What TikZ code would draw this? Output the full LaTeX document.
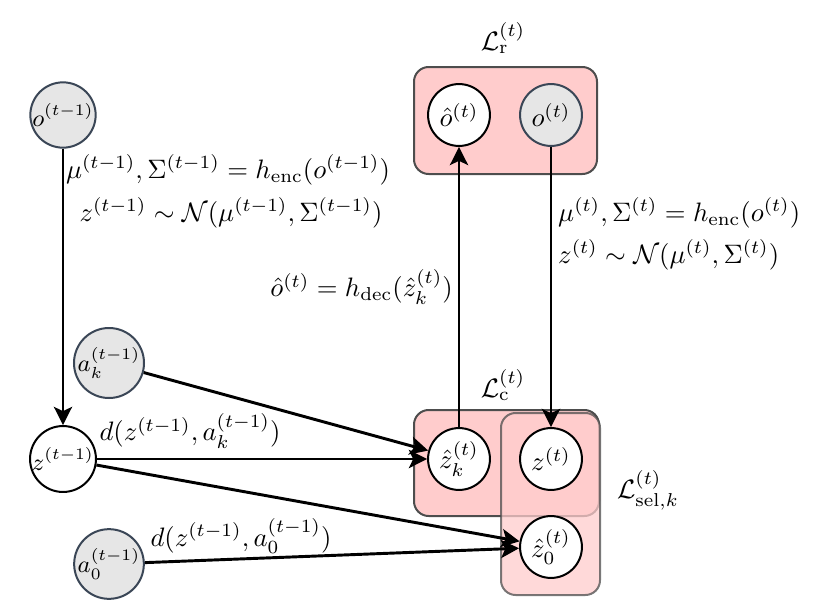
\documentclass[tikz,border=0pt]{standalone}
\usetikzlibrary{arrows.meta}
\begin{document}
\begin{tikzpicture}[x=0.375pt,y=-0.375pt,
  obs/.style={circle,draw=obsline,fill=obsfill,line width=0.75pt,minimum size=23.2pt,inner sep=0pt,font=\small},
  lat/.style={circle,draw=black,fill=white,line width=0.75pt,minimum size=23.2pt,inner sep=0pt},
  lossbox/.style={draw=boxline,fill=boxfill,line width=0.75pt,rounded corners=5.5pt},
  conn/.style={line width=1.1pt,-{Stealth[length=6.8pt,width=6.8pt,inset=1.6pt]}}]
\definecolor{obsfill}{HTML}{E6E6E6}
\definecolor{obsline}{HTML}{3A4656}
\definecolor{boxfill}{HTML}{FFCCCC}
\definecolor{boxline}{HTML}{4D4D4D}
\useasboundingbox (0,0) rectangle (814,611);
% loss boxes
\draw[lossbox] (414,67) rectangle (597,174);
\draw[lossbox] (414,410) rectangle (599,516);
\draw[lossbox,fill opacity=0.75,draw opacity=0.75] (501,413) rectangle (600,595);
\node (Lr) at (503,38) {$\mathcal{L}_{\mathrm{r}}^{(t)}$};
\node (Lc) at (503,385) {$\mathcal{L}_{\mathrm{c}}^{(t)}$};
\node (Ls) at (648,490) {$\mathcal{L}_{\mathrm{sel},k}^{(t)}$};
% nodes
\node[obs] (o1) at (63,115) {$o^{(t-1)}$};
\node[lat,font=\small] (z1) at (63,459) {$z^{(t-1)}$};
\node[obs] (ak) at (109,363) {$a_k^{(t-1)}$};
\node[obs] (a0) at (109,564) {$a_0^{(t-1)}$};
\node[lat] (oh) at (459,115) {$\hat{o}^{(t)}$};
\node[obs,font=\normalsize] (ot) at (551,115) {$o^{(t)}$};
\node[lat] (zk) at (459,459) {$\hat{z}_k^{(t)}$};
\node[lat] (zt) at (551,459) {$z^{(t)}$};
\node[lat] (z0) at (551,547) {$\hat{z}_0^{(t)}$};
% connectors
\draw[conn] (o1) -- (z1);
\draw[conn] (zk) -- (oh);
\draw[conn] (ot) -- (zt);
\draw[conn] (ak) -- (zk);
\draw[conn] (z1) -- (zk);
\draw[conn] (z1) -- (z0);
\draw[conn] (a0) -- (z0);
% labels
\node (l1) at (228,170) {$\mu^{(t-1)},\Sigma^{(t-1)}=h_{\mathrm{enc}}(o^{(t-1)})$};
\node (l2) at (231,213) {$z^{(t-1)}\sim\mathcal{N}(\mu^{(t-1)},\Sigma^{(t-1)})$};
\node[anchor=west,inner sep=1pt] (l3) at (555,213) {$\mu^{(t)},\Sigma^{(t)}=h_{\mathrm{enc}}(o^{(t)})$};
\node[anchor=west,inner sep=1pt] (l4) at (555,255) {$z^{(t)}\sim\mathcal{N}(\mu^{(t)},\Sigma^{(t)})$};
\node[anchor=east,inner sep=1pt] (l5) at (456,287) {$\hat{o}^{(t)}=h_{\mathrm{dec}}(\hat{z}_k^{(t)})$};
\node (l6) at (190,431) {$d(z^{(t-1)},a_k^{(t-1)})$};
\node (l7) at (241,536) {$d(z^{(t-1)},a_0^{(t-1)})$};
\end{tikzpicture}
\end{document}
